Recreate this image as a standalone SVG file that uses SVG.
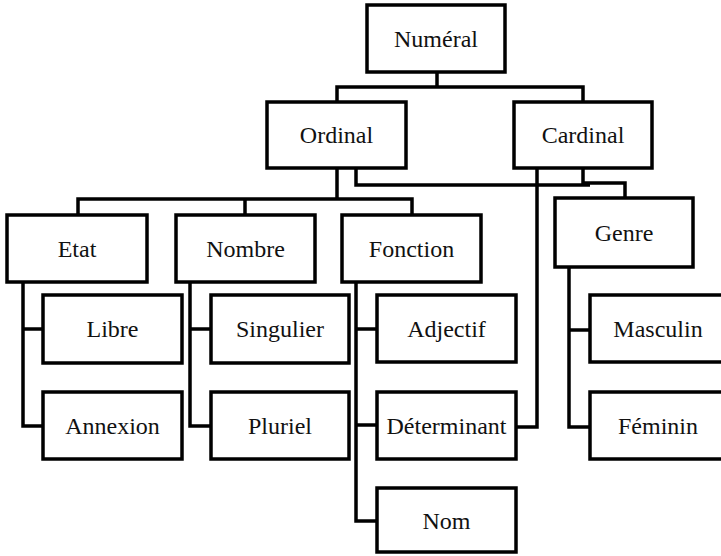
<svg xmlns="http://www.w3.org/2000/svg" width="721" height="556" viewBox="0 0 721 556">
<style>
.box{fill:#fff;stroke:#000;stroke-width:3.5}
.ln{fill:none;stroke:#000;stroke-width:3.5}
.t{font-family:'Liberation Serif','DejaVu Serif',serif;font-size:24px;fill:#111;text-anchor:middle}
</style>
<rect width="721" height="556" fill="#fff"/>
<g id="connectors">
<path class="ln" d="M437,72 V87 H337 V102 M437,87 H583 V102"/>
<path class="ln" d="M337,168 V199 M78,215 V199 H412 V215 M245,199 V215"/>
<path class="ln" d="M356,168 V185 H590"/>
<path class="ln" d="M583,168 V183 H625 V198"/>
<path class="ln" d="M537,168 V427 H516"/>
<path class="ln" d="M23,282 V426 H43 M23,329 H43"/>
<path class="ln" d="M190,282 V426 H211 M190,329 H211"/>
<path class="ln" d="M356,282 V521 H377 M356,329 H377 M356,425 H377"/>
<path class="ln" d="M569,267 V427 H590 M569,330 H590"/>
</g>
<g class="t" font-family="Liberation Serif, DejaVu Serif, serif">
<g id="numeral"><rect class="box" x="367" y="5" width="138" height="67"/><text x="436" y="47">Numéral</text></g>
<g id="ordinal"><rect class="box" x="267" y="102" width="139" height="66"/><text x="336.5" y="143">Ordinal</text></g>
<g id="cardinal"><rect class="box" x="514" y="102" width="138" height="66"/><text x="583" y="143">Cardinal</text></g>
<g id="etat"><rect class="box" x="7" y="215" width="140" height="67"/><text x="77" y="257">Etat</text></g>
<g id="nombre"><rect class="box" x="176" y="215" width="139" height="67"/><text x="245.5" y="257">Nombre</text></g>
<g id="fonction"><rect class="box" x="342" y="215" width="139" height="67"/><text x="411.5" y="257">Fonction</text></g>
<g id="genre"><rect class="box" x="555" y="198" width="138" height="69"/><text x="624" y="241">Genre</text></g>
<g id="libre"><rect class="box" x="43" y="295" width="139" height="68"/><text x="112.5" y="337">Libre</text></g>
<g id="annexion"><rect class="box" x="43" y="392" width="139" height="67"/><text x="112.5" y="434">Annexion</text></g>
<g id="singulier"><rect class="box" x="211" y="295" width="138" height="68"/><text x="280" y="337">Singulier</text></g>
<g id="pluriel"><rect class="box" x="211" y="392" width="138" height="67"/><text x="280" y="434">Pluriel</text></g>
<g id="adjectif"><rect class="box" x="377" y="295" width="139" height="67"/><text x="446.5" y="337">Adjectif</text></g>
<g id="determinant"><rect class="box" x="377" y="392" width="139" height="67"/><text x="446.5" y="434">Déterminant</text></g>
<g id="nom"><rect class="box" x="377" y="488" width="139" height="64"/><text x="446.5" y="529">Nom</text></g>
<g id="masculin"><rect class="box" x="590" y="295" width="136" height="67"/><text x="658" y="337">Masculin</text></g>
<g id="feminin"><rect class="box" x="590" y="392" width="136" height="67"/><text x="658" y="434">Féminin</text></g>
</g>
</svg>
